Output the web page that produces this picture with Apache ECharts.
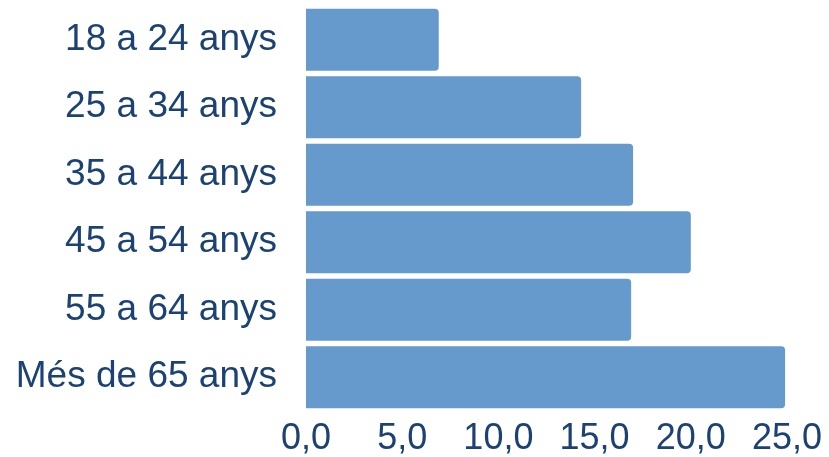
<!DOCTYPE html>
<html>
<head>
<meta charset="utf-8">
<script src="https://cdn.jsdelivr.net/npm/echarts@6/dist/echarts.min.js"></script>
<style>html,body{margin:0;padding:0;background:#fff;}#c{width:829px;height:457px;}</style>
</head>
<body>
<div id="c"></div>
<script>
var categories = ["18 a 24 anys", "25 a 34 anys", "35 a 44 anys", "45 a 54 anys", "55 a 64 anys", "Més de 65 anys"];
var values = [6.9, 14.3, 17.0, 20.0, 16.9, 24.9];
var xTicks = [0, 5, 10, 15, 20, 25];

var chart = echarts.init(document.getElementById('c'));
chart.setOption({
  animation: false,
  grid: { left: 306, right: 42, top: 6, bottom: 46 },
  xAxis: {
    type: 'value', min: 0, max: 25, interval: 5,
    axisLine: { show: false }, axisTick: { show: false }, splitLine: { show: false },
    axisLabel: {
      margin: 10, fontSize: 36, color: '#1b4273', fontFamily: 'Liberation Sans',
      formatter: function (v) { return v.toFixed(1).replace('.', ','); }
    }
  },
  yAxis: {
    type: 'category', data: categories, inverse: true,
    axisLine: { show: false }, axisTick: { show: false },
    axisLabel: { margin: 29, fontSize: 37, color: '#1b4273', fontFamily: 'Liberation Sans' }
  },
  series: [{
    type: 'bar', data: values, barCategoryGap: '8%',
    itemStyle: { color: '#6699cc', borderRadius: [0, 4, 4, 0] }
  }]
});
</script>
</body>
</html>
